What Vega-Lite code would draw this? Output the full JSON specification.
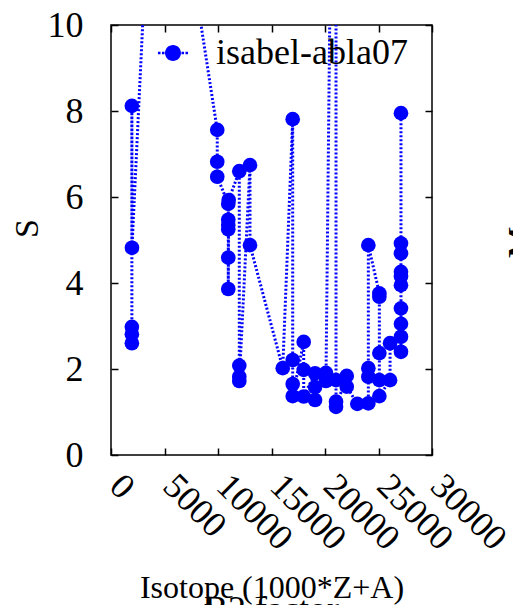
{
  "$schema": "https://vega.github.io/schema/vega-lite/v6.json",
  "width": 321,
  "height": 430,
  "autosize": "none",
  "padding": {"left": 111, "top": 25, "right": 81, "bottom": 150},
  "config": {
    "font": "Liberation Serif",
    "view": {"stroke": "#000", "strokeWidth": 1.5},
    "axis": {
      "domain": false, "grid": false, "tickColor": "#000", "tickSize": -7, "tickWidth": 1.5,
      "labelFont": "Liberation Serif", "labelFontSize": 36, "labelColor": "#000",
      "titleFont": "Liberation Serif", "titleColor": "#000", "titleFontWeight": "normal"
    },
    "legend": {"labelFont": "Liberation Serif", "labelLimit": 0}
  },
  "data": {"values": [
    {"i":1,"x":1950,"y":2.60,"series":"isabel-abla07"},
    {"i":2,"x":1950,"y":2.81,"series":"isabel-abla07"},
    {"i":3,"x":1950,"y":2.98,"series":"isabel-abla07"},
    {"i":4,"x":1950,"y":8.12,"series":"isabel-abla07"},
    {"i":5,"x":1960,"y":4.82,"series":"isabel-abla07"},
    {"i":6,"x":4250,"y":16.7,"series":"isabel-abla07"},
    {"i":7,"x":9930,"y":7.56,"series":"isabel-abla07"},
    {"i":8,"x":9930,"y":6.82,"series":"isabel-abla07"},
    {"i":9,"x":9930,"y":6.47,"series":"isabel-abla07"},
    {"i":10,"x":10960,"y":5.84,"series":"isabel-abla07"},
    {"i":11,"x":10960,"y":5.47,"series":"isabel-abla07"},
    {"i":12,"x":10960,"y":5.35,"series":"isabel-abla07"},
    {"i":13,"x":10960,"y":5.25,"series":"isabel-abla07"},
    {"i":14,"x":10960,"y":4.59,"series":"isabel-abla07"},
    {"i":15,"x":10960,"y":3.86,"series":"isabel-abla07"},
    {"i":16,"x":11000,"y":5.93,"series":"isabel-abla07"},
    {"i":17,"x":11990,"y":6.60,"series":"isabel-abla07"},
    {"i":18,"x":11990,"y":2.08,"series":"isabel-abla07"},
    {"i":19,"x":11990,"y":1.82,"series":"isabel-abla07"},
    {"i":20,"x":11990,"y":1.72,"series":"isabel-abla07"},
    {"i":21,"x":12990,"y":6.74,"series":"isabel-abla07"},
    {"i":22,"x":12990,"y":4.88,"series":"isabel-abla07"},
    {"i":23,"x":16050,"y":2.02,"series":"isabel-abla07"},
    {"i":24,"x":16980,"y":7.81,"series":"isabel-abla07"},
    {"i":25,"x":16980,"y":2.21,"series":"isabel-abla07"},
    {"i":26,"x":16980,"y":1.65,"series":"isabel-abla07"},
    {"i":27,"x":16980,"y":1.37,"series":"isabel-abla07"},
    {"i":28,"x":18010,"y":2.63,"series":"isabel-abla07"},
    {"i":29,"x":18010,"y":1.98,"series":"isabel-abla07"},
    {"i":30,"x":18010,"y":1.36,"series":"isabel-abla07"},
    {"i":31,"x":19070,"y":1.90,"series":"isabel-abla07"},
    {"i":32,"x":19070,"y":1.58,"series":"isabel-abla07"},
    {"i":33,"x":19070,"y":1.28,"series":"isabel-abla07"},
    {"i":34,"x":20090,"y":1.91,"series":"isabel-abla07"},
    {"i":35,"x":20090,"y":1.72,"series":"isabel-abla07"},
    {"i":36,"x":21030,"y":24.0,"series":"isabel-abla07"},
    {"i":37,"x":21030,"y":1.74,"series":"isabel-abla07"},
    {"i":38,"x":21030,"y":1.24,"series":"isabel-abla07"},
    {"i":39,"x":21030,"y":1.12,"series":"isabel-abla07"},
    {"i":40,"x":22030,"y":1.84,"series":"isabel-abla07"},
    {"i":41,"x":22030,"y":1.59,"series":"isabel-abla07"},
    {"i":42,"x":23020,"y":1.19,"series":"isabel-abla07"},
    {"i":43,"x":24050,"y":1.20,"series":"isabel-abla07"},
    {"i":44,"x":24050,"y":1.82,"series":"isabel-abla07"},
    {"i":45,"x":24050,"y":2.02,"series":"isabel-abla07"},
    {"i":46,"x":24050,"y":4.88,"series":"isabel-abla07"},
    {"i":47,"x":25080,"y":3.76,"series":"isabel-abla07"},
    {"i":48,"x":25080,"y":3.68,"series":"isabel-abla07"},
    {"i":49,"x":25080,"y":2.37,"series":"isabel-abla07"},
    {"i":50,"x":25080,"y":1.74,"series":"isabel-abla07"},
    {"i":51,"x":25080,"y":1.37,"series":"isabel-abla07"},
    {"i":52,"x":26080,"y":1.74,"series":"isabel-abla07"},
    {"i":53,"x":26080,"y":2.60,"series":"isabel-abla07"},
    {"i":54,"x":27100,"y":2.40,"series":"isabel-abla07"},
    {"i":55,"x":27100,"y":2.75,"series":"isabel-abla07"},
    {"i":56,"x":27100,"y":3.05,"series":"isabel-abla07"},
    {"i":57,"x":27100,"y":3.41,"series":"isabel-abla07"},
    {"i":58,"x":27100,"y":3.95,"series":"isabel-abla07"},
    {"i":59,"x":27100,"y":4.15,"series":"isabel-abla07"},
    {"i":60,"x":27100,"y":4.26,"series":"isabel-abla07"},
    {"i":61,"x":27100,"y":4.69,"series":"isabel-abla07"},
    {"i":62,"x":27100,"y":4.92,"series":"isabel-abla07"},
    {"i":63,"x":27100,"y":7.95,"series":"isabel-abla07"}
  ]},
  "layer": [
    {
      "mark": {"type": "line", "color": "#0000ff", "strokeWidth": 3, "strokeDash": [2, 2], "strokeCap": "butt", "clip": true},
      "encoding": {
        "x": {"field": "x", "type": "quantitative", "scale": {"domain": [0, 30000], "nice": false, "zero": false},
          "axis": {"orient": "bottom", "values": [0,5000,10000,15000,20000,25000,30000], "format": "d",
            "labelAngle": 45, "labelAlign": "left", "labelBaseline": "middle", "labelPadding": 32, "labelOffset": 4, "labelOverlap": false, "labelFlush": false,
            "labelFont": "Liberation Serif", "labelFontSize": 36,
            "title": "Isotope (1000*Z+A)", "titleFont": "Liberation Serif", "titleFontSize": 32, "titleBaseline": "alphabetic", "titleX": 160.5, "titleY": 142, "titleAlign": "center"}},
        "y": {"field": "y", "type": "quantitative", "scale": {"domain": [0, 10], "nice": false, "zero": false},
          "axis": {"orient": "left", "values": [0,2,4,6,8,10], "labelPadding": 35, "labelOverlap": false, "labelFlush": false,
            "labelFont": "Liberation Serif", "labelFontSize": 36,
            "title": "S", "titleFont": "Liberation Serif", "titleFontSize": 34, "titleAngle": 270, "titleBaseline": "alphabetic", "titleAlign": "center", "titleX": -74, "titleY": 203}},
        "order": {"field": "i", "type": "quantitative"}
      }
    },
    {
      "mark": {"type": "point", "filled": true, "opacity": 1, "size": 215, "clip": true},
      "encoding": {
        "x": {"field": "x", "type": "quantitative", "axis": null},
        "y": {"field": "y", "type": "quantitative", "axis": null},
        "color": {"field": "series", "type": "nominal", "scale": {"range": ["#0000ff"]},
          "legend": {"orient": "none", "legendX": 44, "legendY": 10, "title": null,
            "symbolType": "M0.5,0A0.5,0.5,0,1,1,-0.5,0A0.5,0.5,0,1,1,0.5,0Z M-0.94,-0.08h0.16v0.16h-0.16Z M-0.69,-0.08h0.16v0.16h-0.16Z M0.53,-0.08h0.16v0.16h-0.16Z M0.78,-0.08h0.16v0.16h-0.16Z",
            "symbolSize": 1024, "symbolStrokeWidth": 0, "labelFont": "Liberation Serif", "labelFontSize": 36, "labelLimit": 0, "labelColor": "#000", "labelOffset": 25, "padding": 0}}
      }
    },
    {
      "mark": {"type": "point", "opacity": 0},
      "encoding": {
        "x": {"field": "x", "type": "quantitative",
          "axis": {"orient": "top", "values": [0,5000,10000,15000,20000,25000,30000], "labels": false, "title": null}},
        "y": {"field": "y", "type": "quantitative",
          "axis": {"orient": "right", "values": [0,2,4,6,8,10], "labels": false,
            "title": "M", "titleFont": "Liberation Serif", "titleFontSize": 36, "titleAngle": 270, "titleBaseline": "alphabetic", "titleAlign": "center", "titleX": 100, "titleY": 217}}
      }
    }
  ],
  "resolve": {"axis": {"x": "independent", "y": "independent"}},
  "title": {"text": "B2 factor", "orient": "bottom", "anchor": "middle", "fontSize": 36, "font": "Liberation Serif", "fontWeight": "normal", "color": "#000", "offset": -10}
}
